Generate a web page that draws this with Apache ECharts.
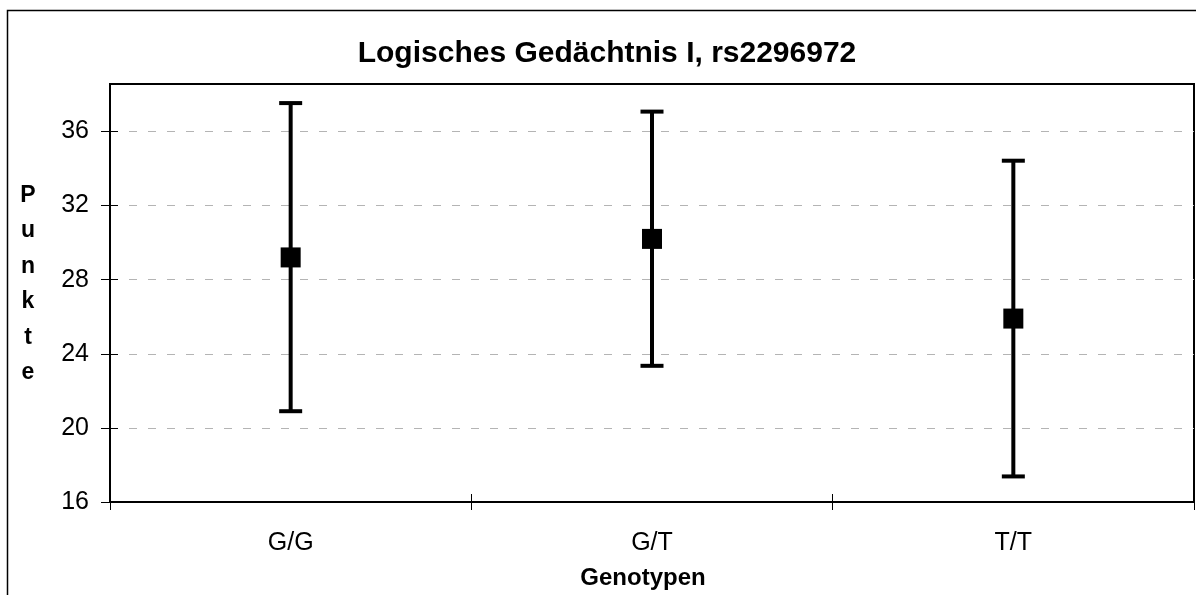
<!DOCTYPE html>
<html>
<head>
<meta charset="utf-8">
<script src="https://cdn.jsdelivr.net/npm/echarts@6/dist/echarts.min.js"></script>
<style>
html,body{margin:0;padding:0;background:#fff;}
#c{width:1196px;height:595px;}
</style>
</head>
<body>
<div id="c"></div>
<script>
const categories = ['G/G', 'G/T', 'T/T'];
const means = [29.2, 30.2, 25.9];
const upper = [37.53, 37.07, 34.42];
const lower = [20.9, 23.35, 17.38];
const yTicks = [16, 20, 24, 28, 32, 36];
const titleText = 'Logisches Gedächtnis I, rs2296972';
const yName = 'Punkte';
const xName = 'Genotypen';

const FONT = '"Liberation Sans", Arial, sans-serif';
const chart = echarts.init(document.getElementById('c'), null, {renderer: 'canvas'});

const errData = categories.map((c, i) => [i, lower[i], upper[i]]);

const option = {
  backgroundColor: '#fff',
  animation: false,
  title: {
    text: titleText,
    left: 602,
    textAlign: 'center',
    top: 34,
    textStyle: {fontFamily: FONT, fontSize: 30, fontWeight: 'bold', color: '#000'}
  },
  grid: {left: 110, top: 84, right: 2, bottom: 93, show: true, borderColor: '#000', borderWidth: 2, outerBoundsMode: 'none', containLabel: false},
  xAxis: [{
    type: 'category',
    data: categories,
    position: 'bottom',
    axisLine: {show: true, lineStyle: {color: '#000', width: 2}},
    axisTick: {show: true, inside: false, length: 8, lineStyle: {color: '#000', width: 1}},
    axisLabel: {fontFamily: FONT, fontSize: 25, color: '#000', margin: 29},
    splitLine: {show: false},
    name: xName,
    nameLocation: 'middle',
    nameGap: 64,
    nameTextStyle: {fontFamily: FONT, fontSize: 24, fontWeight: 'bold', color: '#000', padding: [0, 18, 0, 0]}
  }, {
    type: 'category',
    data: categories,
    position: 'bottom',
    axisLine: {show: false},
    axisTick: {show: true, inside: true, length: 8, lineStyle: {color: '#000', width: 1}},
    axisLabel: {show: false},
    splitLine: {show: false}
  }],
  yAxis: [{
    type: 'value',
    min: 16,
    max: 38.56,
    interval: 4,
    axisLine: {show: true, lineStyle: {color: '#000', width: 2}},
    axisTick: {show: true, inside: false, length: 9, customValues: yTicks, lineStyle: {color: '#000', width: 1}},
    axisLabel: {
      fontFamily: FONT, fontSize: 25, color: '#000', margin: 21,
      customValues: yTicks
    },
    splitLine: {show: true, lineStyle: {color: '#b4b4b4', width: 1, type: [8, 11]}}
  }, {
    type: 'value',
    min: 16,
    max: 38.56,
    interval: 4,
    position: 'left',
    axisLine: {show: false},
    axisTick: {show: true, inside: true, length: 8, customValues: yTicks, lineStyle: {color: '#000', width: 1}},
    axisLabel: {show: false},
    splitLine: {show: false}
  }],
  graphic: [{
    type: 'rect',
    shape: {x: 7.5, y: 10.5, width: 1300, height: 700},
    style: {fill: null, stroke: '#000', lineWidth: 1.5},
    silent: true,
    z: -10
  }, {
    type: 'text',
    x: 28,
    y: 284,
    style: {
      text: yName.split('').join('\n'),
      fontFamily: FONT, fontSize: 23, fontWeight: 'bold', fill: '#000',
      lineHeight: 35.5, align: 'center', verticalAlign: 'middle'
    }
  }],
  series: [{
    type: 'custom',
    xAxisIndex: 0,
    yAxisIndex: 0,
    data: errData,
    z: 2,
    renderItem: function (params, api) {
      const x = api.value(0);
      const lo = api.coord([x, api.value(1)]);
      const hi = api.coord([x, api.value(2)]);
      const cw = 11.5;
      const st = {stroke: '#000', lineWidth: 4, fill: null};
      return {
        type: 'group',
        children: [
          {type: 'line', shape: {x1: hi[0], y1: hi[1], x2: lo[0], y2: lo[1]}, style: st},
          {type: 'line', shape: {x1: hi[0] - cw, y1: hi[1], x2: hi[0] + cw, y2: hi[1]}, style: st},
          {type: 'line', shape: {x1: lo[0] - cw, y1: lo[1], x2: lo[0] + cw, y2: lo[1]}, style: st}
        ]
      };
    }
  }, {
    type: 'scatter',
    xAxisIndex: 0,
    yAxisIndex: 0,
    data: means,
    symbol: 'rect',
    symbolSize: 20,
    itemStyle: {color: '#000', opacity: 1},
    z: 3
  }]
};
chart.setOption(option);
</script>
</body>
</html>
